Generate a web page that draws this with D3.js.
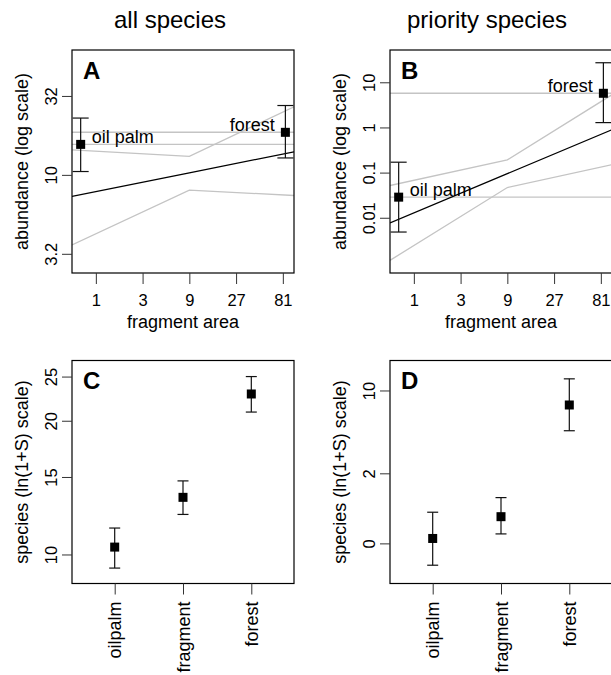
<!DOCTYPE html>
<html>
<head>
<meta charset="utf-8">
<script src="https://cdn.jsdelivr.net/npm/d3@7"></script>
<style>
    body { margin: 0; background: #fff; }
    svg { display: block; font-family: "Liberation Sans", Arial, sans-serif; }
</style>
</head>
<body>
<script>
// habitat positions on the fragment-area axis (oil palm, forest)
var habitatNames = ['oil palm', 'forest'];
var habitatArea = [0.7, 86];
var areaTicks = [1, 3, 9, 27, 81];
var areaDomain = [0.571, 105.3];

// panel A - all species abundance
var allMean = [15.6, 18.6];
var allLo = [10.5, 12.8];
var allHi = [22.9, 27.5];
var allTicks = [3.162, 10, 31.62];
var allTickLabels = ['3.2', '10', '32'];
var allDomain = [2.39, 61.8];

// panel B - priority species abundance
var priMean = [0.0286, 5.71];
var priLo = [0.00483, 1.28];
var priHi = [0.170, 27.1];
var priTicks = [0.01, 0.1, 1, 10];
var priTickLabels = ['0.01', '0.1', '1', '10'];
var priDomain = [0.000598, 51.9];

// fragment fits (fit and confidence band) at left edge, 9 ha, right edge
var fitArea = [0.571, 9, 105.3];
var allFit = [7.3, 10.3, 14.0];
var allFitLo = [3.6, 8.0, 7.4];
var allFitHi = [14.4, 13.1, 27.0];
var priFit = [0.0077, 0.095, 0.89];
var priFitLo = [0.00114, 0.0468, 0.15];
var priFitHi = [0.0518, 0.191, 5.3];

// panels C, D - species richness
var landUse = ['oilpalm', 'fragment', 'forest'];
var allRich = [10.4, 13.5, 22.9];
var allRichLo = [9.3, 12.35, 20.9];
var allRichHi = [11.5, 14.7, 25.0];
var allRichTicks = [10, 15, 20, 25];
var allRichDomain = [8.56, 27.1];
var priRich = [0.08, 0.52, 7.76];
var priRichLo = [-0.29, 0.16, 4.85];
var priRichHi = [0.63, 1.05, 12.2];
var priRichTicks = [0, 2, 10];
var priRichDomain = [-0.467, 16.6];

var W = 611, H = 675;
var svg = d3.select('body').append('svg').attr('width', W).attr('height', H);

var boxW = 222, boxH = 223;
var lineGrey = '#c4c4c4';

function frame(g, x, y, letter, id) {
    g.append('clipPath').attr('id', id)
        .append('rect').attr('x', x).attr('y', y).attr('width', boxW).attr('height', boxH);
    g.append('text')
        .attr('x', x + 11).attr('y', y + 28.5)
        .attr('font-size', 24).attr('font-weight', 'bold')
        .text(letter);
}

function yAxis(g, x, scale, vals, labels) {
    var ax = d3.axisLeft(scale).tickValues(vals).tickSize(10)
        .tickFormat((d, i) => labels[i]);
    var a = g.append('g').attr('transform', `translate(${x},0)`).call(ax);
    a.select('.domain').remove();
    a.selectAll('line').attr('stroke', '#333');
    a.selectAll('text')
        .attr('x', 0).attr('y', -15).attr('dy', 0)
        .attr('transform', 'rotate(-90)')
        .attr('text-anchor', 'middle')
        .attr('font-size', 16.5).attr('fill', '#000');
}

function yTitle(g, cx, cy, txt) {
    g.append('text')
        .attr('transform', `translate(${cx},${cy}) rotate(-90)`)
        .attr('text-anchor', 'middle').attr('font-size', 18)
        .text(txt);
}

function drawAbundance(x0, y0, letter, id, yDomain, ticks, tickLabels, mean, lo, hi, fit, fitLo, fitHi) {
    var g = svg.append('g');
    var x = d3.scaleLog().base(3).domain(areaDomain).range([x0, x0 + boxW]);
    var y = d3.scaleLog().domain(yDomain).range([y0 + boxH, y0]);

    var inner = g.append('g').attr('clip-path', `url(#${id})`);
    frame(g, x0, y0, letter, id);

    // horizontal reference lines at habitat means
    inner.selectAll('.href').data(mean).enter()
        .append('line')
        .attr('x1', x0).attr('x2', x0 + boxW)
        .attr('y1', d => y(d)).attr('y2', d => y(d))
        .attr('stroke', lineGrey).attr('stroke-width', 1.4);

    var line = d3.line().x((d, i) => x(fitArea[i])).y(d => y(d));
    [fitLo, fitHi].forEach(band => {
        inner.append('path').attr('d', line(band))
            .attr('fill', 'none').attr('stroke', lineGrey).attr('stroke-width', 1.3);
    });
    inner.append('path').attr('d', line(fit))
        .attr('fill', 'none').attr('stroke', '#000').attr('stroke-width', 1.3);

    // error bars and points
    mean.forEach((m, i) => {
        var px = x(habitatArea[i]);
        g.append('line').attr('x1', px).attr('x2', px)
            .attr('y1', y(lo[i])).attr('y2', y(hi[i])).attr('stroke', '#111').attr('stroke-width', 1.2);
        [lo[i], hi[i]].forEach(v => {
            g.append('line').attr('x1', px - 8).attr('x2', px + 8)
                .attr('y1', y(v)).attr('y2', y(v)).attr('stroke', '#111').attr('stroke-width', 1.2);
        });
        g.append('rect').attr('x', px - 4.5).attr('y', y(m) - 4.5)
            .attr('width', 9).attr('height', 9).attr('fill', '#000');
        g.append('text')
            .attr('x', i == 0 ? px + 11 : px - 10.5)
            .attr('y', y(m) - 1.2)
            .attr('text-anchor', i == 0 ? 'start' : 'end')
            .attr('font-size', 18)
            .text(habitatNames[i]);
    });

    g.append('rect').attr('x', x0).attr('y', y0).attr('width', boxW).attr('height', boxH)
        .attr('fill', 'none').attr('stroke', '#000').attr('stroke-width', 1.2);

    var xa = g.append('g').attr('transform', `translate(0,${y0 + boxH})`)
        .call(d3.axisBottom(x).tickValues(areaTicks).tickSize(11).tickFormat(d3.format('d')));
    xa.select('.domain').remove();
    xa.selectAll('line').attr('stroke', '#333');
    xa.selectAll('text').attr('y', 33).attr('dy', 0).attr('font-size', 16.5).attr('fill', '#000');

    yAxis(g, x0, y, ticks, tickLabels);
    yTitle(g, x0 - 44, y0 + boxH / 2, 'abundance (log scale)');
    g.append('text').attr('x', x0 + boxW / 2).attr('y', y0 + boxH + 55)
        .attr('text-anchor', 'middle').attr('font-size', 18).text('fragment area');
}

function drawRichness(x0, y0, letter, id, yDomain, ticks, mean, lo, hi) {
    var g = svg.append('g');
    var x = d3.scalePoint().domain(landUse).range([x0, x0 + boxW]).padding(0.625);
    // ln(1+S) scale
    var y = d3.scaleLog().base(Math.E).domain(yDomain.map(d => 1 + d)).range([y0 + boxH, y0]);
    frame(g, x0, y0, letter, id);

    landUse.forEach((k, i) => {
        var px = x(k);
        g.append('line').attr('x1', px).attr('x2', px)
            .attr('y1', y(1 + lo[i])).attr('y2', y(1 + hi[i])).attr('stroke', '#111').attr('stroke-width', 1.2);
        [lo[i], hi[i]].forEach(v => {
            g.append('line').attr('x1', px - 5.5).attr('x2', px + 5.5)
                .attr('y1', y(1 + v)).attr('y2', y(1 + v)).attr('stroke', '#111').attr('stroke-width', 1.2);
        });
        g.append('rect').attr('x', px - 4.5).attr('y', y(1 + mean[i]) - 4.5)
            .attr('width', 9).attr('height', 9).attr('fill', '#000');
    });

    g.append('rect').attr('x', x0).attr('y', y0).attr('width', boxW).attr('height', boxH)
        .attr('fill', 'none').attr('stroke', '#000').attr('stroke-width', 1.2);

    var xa = g.append('g').attr('transform', `translate(0,${y0 + boxH})`)
        .call(d3.axisBottom(x).tickSize(11));
    xa.select('.domain').remove();
    xa.selectAll('line').attr('stroke', '#333');
    xa.selectAll('text')
        .attr('x', 0).attr('y', 0).attr('dy', 0)
        .attr('transform', 'translate(6,18) rotate(-90)')
        .attr('text-anchor', 'end').attr('font-size', 18).attr('fill', '#000');

    yAxis(g, x0, y, ticks.map(d => 1 + d), ticks.map(String));
    yTitle(g, x0 - 44, y0 + boxH / 2, 'species (ln(1+S) scale)');
}

// column titles
svg.append('text').attr('x', 170).attr('y', 28).attr('text-anchor', 'middle')
    .attr('font-size', 24).text('all species');
svg.append('text').attr('x', 487).attr('y', 28).attr('text-anchor', 'middle')
    .attr('font-size', 24).text('priority species');

drawAbundance(72, 50, 'A', 'clipA', allDomain, allTicks, allTickLabels,
    allMean, allLo, allHi, allFit, allFitLo, allFitHi);
drawAbundance(390, 50, 'B', 'clipB', priDomain, priTicks, priTickLabels,
    priMean, priLo, priHi, priFit, priFitLo, priFitHi);
drawRichness(72, 360.5, 'C', 'clipC', allRichDomain, allRichTicks, allRich, allRichLo, allRichHi);
drawRichness(390, 360.5, 'D', 'clipD', priRichDomain, priRichTicks, priRich, priRichLo, priRichHi);
</script>
</body>
</html>
